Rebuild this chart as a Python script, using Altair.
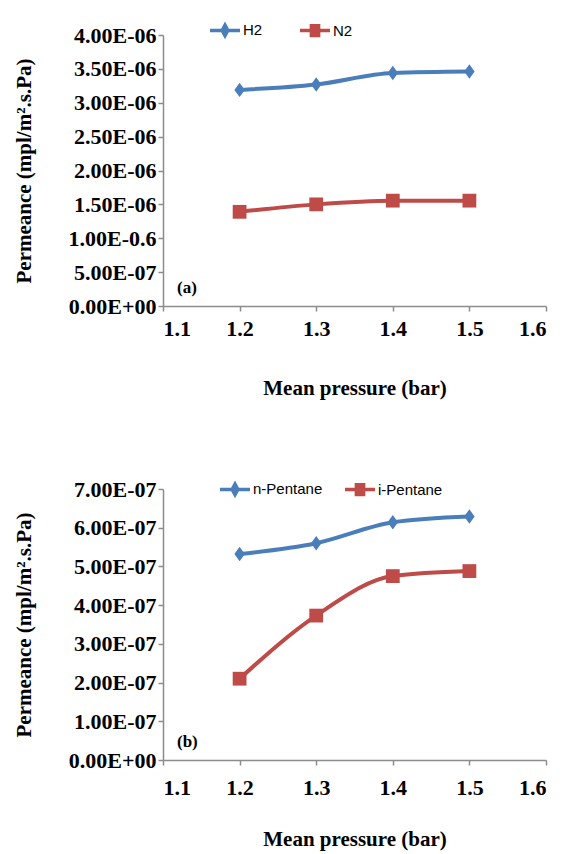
import altair as alt
import pandas as pd

pressure = [1.2, 1.3, 1.4, 1.5]
h2 = [3.19e-6, 3.27e-6, 3.44e-6, 3.46e-6]
n2 = [1.39e-6, 1.50e-6, 1.555e-6, 1.555e-6]
n_pentane = [5.32e-7, 5.60e-7, 6.14e-7, 6.29e-7]
i_pentane = [2.10e-7, 3.73e-7, 4.75e-7, 4.88e-7]

x_ticks = [1.1, 1.2, 1.3, 1.4, 1.5, 1.6]
ya_ticks = [0, 5e-7, 1e-6, 1.5e-6, 2e-6, 2.5e-6, 3e-6, 3.5e-6, 4e-6]
ya_labels = ["0.00E+00", "5.00E-07", "1.00E-0.6", "1.50E-06", "2.00E-06",
             "2.50E-06", "3.00E-06", "3.50E-06", "4.00E-06"]
yb_ticks = [0, 1e-7, 2e-7, 3e-7, 4e-7, 5e-7, 6e-7, 7e-7]
yb_labels = ["0.00E+00", "1.00E-07", "2.00E-07", "3.00E-07", "4.00E-07",
             "5.00E-07", "6.00E-07", "7.00E-07"]

BLUE = "#4A7EBB"
RED = "#BE4B48"
SERIF = "Liberation Serif"
NARROW = "Liberation Sans Narrow, Liberation Sans"

DIAMOND = "M0,-1L0.72,0L0,1L-0.72,0Z"
LEG_DIAMOND = "M-1,0H1M0,-0.35L0.19,0L0,0.35L-0.19,0Z"
LEG_SQUARE = "M-1,0H1M-0.24,-0.32H0.24V0.32H-0.24Z"


def panel(names, s1, s2, ymax, ticks, labels, tag, leg_x, leg_y, col_pad, lab_pad, title_pad):
    df = pd.DataFrame({
        "pressure": pressure + pressure,
        "value": s1 + s2,
        "series": [names[0]] * len(pressure) + [names[1]] * len(pressure),
    })
    step = ticks[1]
    expr = "[" + ",".join("'%s'" % l for l in labels) + "][round(datum.value/%g)]" % step
    x = alt.X("pressure:Q", scale=alt.Scale(domain=[1.1, 1.6], nice=False, zero=False),
              axis=alt.Axis(values=x_ticks, format=".1f", labelPadding=lab_pad,
                            titlePadding=title_pad),
              title="Mean pressure (bar)")
    y = alt.Y("value:Q", scale=alt.Scale(domain=[0, ymax], nice=False),
              axis=alt.Axis(values=ticks, labelExpr=expr, titlePadding=34),
              title="Permeance (mpl/m².s.Pa)")
    color = alt.Color("series:N", scale=alt.Scale(domain=names, range=[BLUE, RED]), legend=None)
    base = alt.Chart(df)
    leg = alt.Legend(orient="none", legendX=leg_x, legendY=leg_y, direction="horizontal",
                     title=None, symbolSize=900, symbolStrokeWidth=3.5, labelFont=NARROW,
                     labelFontSize=15, labelColor="#000", labelOffset=1,
                     columnPadding=col_pad, padding=0)
    # legend carrier: tiny points hidden beneath the real markers
    legend_layer = base.mark_point(filled=True, opacity=1, size=1, strokeWidth=3.5).encode(
        x=x, y=y,
        fill=alt.Fill("series:N", scale=alt.Scale(domain=names, range=[BLUE, RED]), legend=leg),
        stroke=alt.Stroke("series:N", scale=alt.Scale(domain=names, range=[BLUE, RED]), legend=leg),
        shape=alt.Shape("series:N", scale=alt.Scale(domain=names, range=[LEG_DIAMOND, LEG_SQUARE]),
                        legend=leg),
    )
    line = base.mark_line(strokeWidth=4, interpolate="monotone").encode(x=x, y=y, color=color)
    pts1 = base.transform_filter(alt.datum.series == names[0]).mark_point(
        filled=True, opacity=1, size=210, shape=DIAMOND).encode(x=x, y=y, color=color)
    pts2 = base.transform_filter(alt.datum.series == names[1]).mark_point(
        filled=True, opacity=1, size=190, shape="square").encode(x=x, y=y, color=color)
    label = alt.Chart(pd.DataFrame({"t": [tag]})).mark_text(
        font=SERIF, fontWeight="bold", fontSize=17, align="left", baseline="middle"
    ).encode(text="t:N", x=alt.value(14), y=alt.value(253))
    return alt.layer(legend_layer, line, pts1, pts2, label).properties(width=383, height=271)


top = panel(["H2", "N2"], h2, n2, 4e-6, ya_ticks, ya_labels, "(a)", 45, -22, 30, 7, 38)
bottom = panel(["n-Pentane", "i-Pentane"], n_pentane, i_pentane, 7e-7, yb_ticks, yb_labels,
               "(b)", 55, -17, 15, 12, 30)

chart = alt.vconcat(top, bottom, spacing=74).resolve_scale(
    color="independent", fill="independent", stroke="independent", shape="independent"
).resolve_legend(fill="independent", stroke="independent", shape="independent").configure(
    background="white"
).configure_view(
    stroke=None
).configure_axis(
    labelFont=SERIF, labelFontWeight="bold", labelFontSize=22, labelColor="#000",
    titleFont=SERIF, titleFontWeight="bold", titleFontSize=21, titleColor="#000",
    domainColor="#8C8C8C", domainWidth=1.5, tickColor="#8C8C8C", tickWidth=1.5,
    tickSize=5, grid=False,
)

chart.save("out.html", embed_options={"renderer": "svg", "actions": False})
